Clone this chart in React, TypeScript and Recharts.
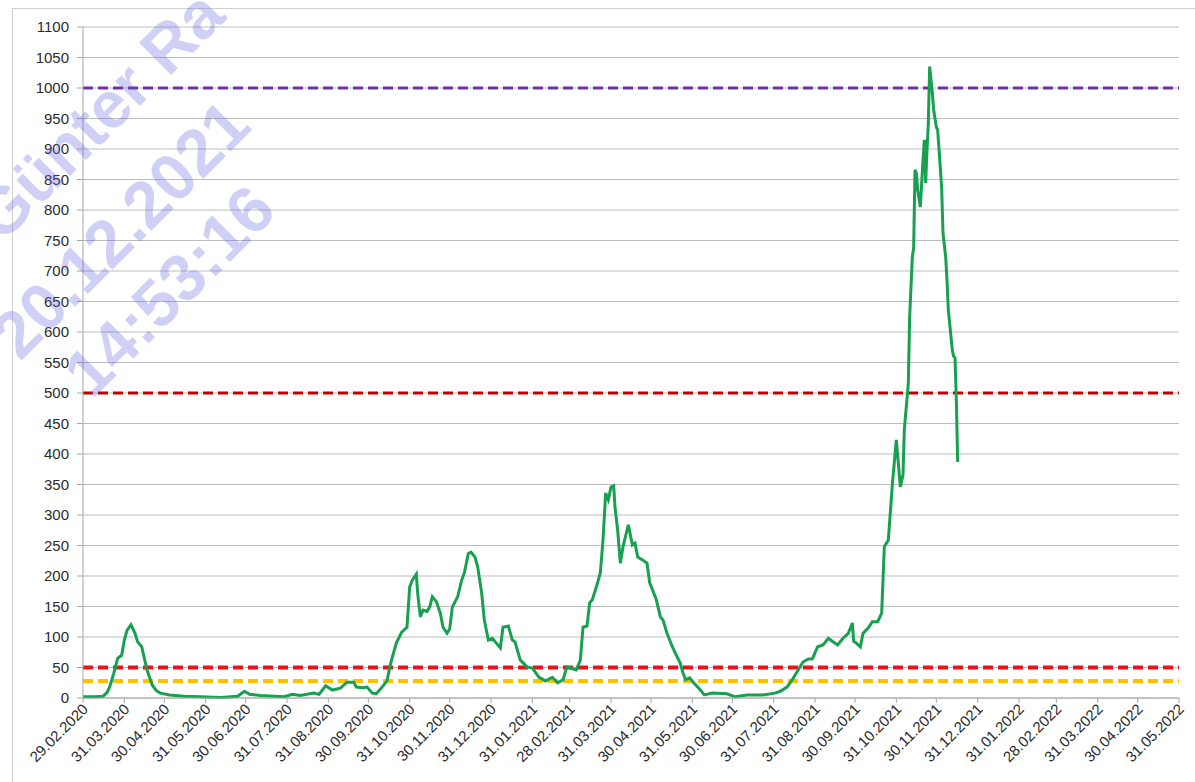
import { LineChart, Line, XAxis, YAxis, CartesianGrid, ReferenceLine } from 'recharts';

// 7-day incidence (one point per visible feature)
const reportDates = [
  '29.02.2020', '09.03.2020', '15.03.2020', '18.03.2020', '20.03.2020', '23.03.2020', '26.03.2020', '29.03.2020',
  '31.03.2020', '02.04.2020', '05.04.2020', '08.04.2020', '10.04.2020', '13.04.2020', '17.04.2020', '21.04.2020',
  '24.04.2020', '27.04.2020', '04.05.2020', '15.05.2020', '27.05.2020', '11.06.2020', '24.06.2020', '29.06.2020',
  '03.07.2020', '11.07.2020', '22.07.2020', '29.07.2020', '04.08.2020', '10.08.2020', '20.08.2020', '24.08.2020',
  '29.08.2020', '03.09.2020', '09.09.2020', '14.09.2020', '19.09.2020', '21.09.2020', '26.09.2020', '29.09.2020',
  '03.10.2020', '06.10.2020', '10.10.2020', '14.10.2020', '16.10.2020', '18.10.2020', '21.10.2020', '25.10.2020',
  '29.10.2020', '31.10.2020', '02.11.2020', '05.11.2020', '06.11.2020', '08.11.2020', '10.11.2020', '13.11.2020',
  '15.11.2020', '17.11.2020', '20.11.2020', '23.11.2020', '25.11.2020', '28.11.2020', '30.11.2020', '02.12.2020',
  '06.12.2020', '09.12.2020', '11.12.2020', '14.12.2020', '16.12.2020', '19.12.2020', '21.12.2020', '24.12.2020',
  '26.12.2020', '29.12.2020', '01.01.2021', '04.01.2021', '07.01.2021', '09.01.2021', '13.01.2021', '16.01.2021',
  '18.01.2021', '22.01.2021', '27.01.2021', '31.01.2021', '05.02.2021', '10.02.2021', '15.02.2021', '19.02.2021',
  '23.02.2021', '26.02.2021', '02.03.2021', '05.03.2021', '08.03.2021', '10.03.2021', '13.03.2021', '15.03.2021',
  '17.03.2021', '20.03.2021', '23.03.2021', '25.03.2021', '27.03.2021', '29.03.2021', '31.03.2021', '02.04.2021',
  '03.04.2021', '05.04.2021', '07.04.2021', '09.04.2021', '13.04.2021', '16.04.2021', '18.04.2021', '20.04.2021',
  '24.04.2021', '27.04.2021', '29.04.2021', '01.05.2021', '04.05.2021', '07.05.2021', '09.05.2021', '12.05.2021',
  '16.05.2021', '19.05.2021', '22.05.2021', '24.05.2021', '26.05.2021', '29.05.2021', '01.06.2021', '06.06.2021',
  '09.06.2021', '15.06.2021', '26.06.2021', '02.07.2021', '11.07.2021', '23.07.2021', '01.08.2021', '05.08.2021',
  '10.08.2021', '14.08.2021', '17.08.2021', '22.08.2021', '26.08.2021', '29.08.2021', '02.09.2021', '06.09.2021',
  '10.09.2021', '13.09.2021', '17.09.2021', '21.09.2021', '25.09.2021', '28.09.2021', '29.09.2021', '01.10.2021',
  '04.10.2021', '06.10.2021', '10.10.2021', '13.10.2021', '17.10.2021', '20.10.2021', '22.10.2021', '25.10.2021',
  '28.10.2021', '31.10.2021', '03.11.2021', '05.11.2021', '06.11.2021', '09.11.2021', '10.11.2021', '12.11.2021',
  '13.11.2021', '14.11.2021', '15.11.2021', '16.11.2021', '18.11.2021', '20.11.2021', '21.11.2021', '22.11.2021',
  '23.11.2021', '24.11.2021', '25.11.2021', '27.11.2021', '28.11.2021', '30.11.2021', '01.12.2021', '03.12.2021',
  '04.12.2021', '05.12.2021', '07.12.2021', '08.12.2021', '09.12.2021', '12.12.2021', '13.12.2021', '14.12.2021',
  '15.12.2021', '16.12.2021',
];

const incidence = [
  2, 2, 3, 9, 18, 40, 65, 70,
  95, 111, 120, 106, 92, 84, 46, 21,
  12, 8, 5, 3, 2, 1, 3, 11,
  6, 4, 3, 2, 6, 4, 8, 6,
  20, 13, 16, 26, 26, 18, 17, 18,
  8, 7, 17, 28, 50, 67, 90, 108,
  116, 182, 193, 203, 172, 133, 144, 142,
  149, 166, 158, 139, 116, 106, 113, 149,
  166, 193, 205, 237, 239, 231, 215, 172,
  128, 95, 98, 90, 82, 116, 118, 95,
  92, 62, 51, 49, 34, 28, 34, 25,
  30, 51, 48, 46, 62, 116, 118, 156,
  161, 182, 205, 259, 336, 325, 346, 348,
  313, 275, 221, 248, 284, 251, 254, 231,
  226, 221, 189, 178, 161, 133, 128, 106,
  84, 70, 57, 41, 30, 33, 25, 13,
  5, 8, 7, 2, 5, 5, 8, 11,
  18, 30, 41, 59, 64, 64, 84, 87,
  98, 93, 87, 98, 106, 123, 93, 90,
  84, 106, 115, 125, 125, 139, 248, 259,
  350, 423, 346, 366, 440, 516, 625, 723,
  738, 866, 861, 833, 805, 882, 915, 844,
  898, 943, 1035, 992, 964, 936, 931, 869,
  836, 762, 723, 685, 636, 570, 560, 558,
  489, 387,
];

const monthTicks = [
  '29.02.2020', '31.03.2020', '30.04.2020', '31.05.2020', '30.06.2020', '31.07.2020', '31.08.2020',
  '30.09.2020', '31.10.2020', '30.11.2020', '31.12.2020', '31.01.2021', '28.02.2021', '31.03.2021',
  '30.04.2021', '31.05.2021', '30.06.2021', '31.07.2021', '31.08.2021', '30.09.2021', '31.10.2021',
  '30.11.2021', '31.12.2021', '31.01.2022', '28.02.2022', '31.03.2022', '30.04.2022', '31.05.2022',
];

const yTicks = [0, 50, 100, 150, 200, 250, 300, 350, 400, 450, 500, 550, 600, 650, 700, 750, 800, 850, 900, 950, 1000, 1050, 1100];

// threshold lines: 1000, 500, 50 and the lower warning level
const limitValues = [1000, 500, 50, 28];
const limitColors = ['#7030a0', '#c00000', '#e8141c', '#ffc000'];

const watermarkLines = ['Günter Ra', '20.12.2021', '14:53:16'];

const ORIGIN = Date.UTC(2020, 1, 29);
const toDay = (s: string) => {
  const [d, m, y] = s.split('.').map(Number);
  return Math.round((Date.UTC(y, m - 1, d) - ORIGIN) / 86400000);
};

const data = reportDates.map((d, i) => ({ day: toDay(d), value: incidence[i] }));
const tickDays = monthTicks.map(toDay);
const labelByDay: Record<number, string> = {};
monthTicks.forEach((l) => (labelByDay[toDay(l)] = l));

const FONT = '"Liberation Sans", Arial, sans-serif';

const DateTick = ({ x, y, payload }: any) => {
  const ax = x + 6;
  const ay = y + 5;
  return (
    <text x={ax} y={ay} transform={`rotate(-45 ${ax} ${ay})`} textAnchor="end" fontSize={15} fill="#2b2b2b" fontFamily={FONT}>
      {labelByDay[payload.value]}
    </text>
  );
};

const Watermark = () => (
  <svg width={1195} height={782} style={{ position: 'absolute', left: 0, top: 0, pointerEvents: 'none' }}>
    {[
      [2, 244],
      [20, 362],
      [92, 400],
    ].map(([x, y], i) => (
      <text
        key={i}
        x={x}
        y={y}
        transform={`rotate(-45 ${x} ${y})`}
        fontSize={66}
        fontWeight="bold"
        fontFamily={FONT}
        fill="rgba(100, 100, 230, 0.3)"
      >
        {watermarkLines[i]}
      </text>
    ))}
  </svg>
);

export default function App() {
  return (
    <div style={{ position: 'absolute', left: 0, top: 0, width: 1195, height: 782, overflow: 'hidden', background: '#fff' }}>
      <div style={{ position: 'absolute', left: 12, top: 8, width: 1200, height: 800, border: '1px solid #d0d0d0' }} />
      <LineChart width={1195} height={782} data={data} margin={{ top: 27, right: 16, left: 33, bottom: 14 }}>
        <CartesianGrid vertical={false} stroke="#bdbdbd" />
        <XAxis
          dataKey="day"
          type="number"
          domain={[0, tickDays[tickDays.length - 1]]}
          ticks={tickDays}
          interval={0}
          height={70}
          stroke="#a6a6a6"
          tickSize={5}
          tick={<DateTick />}
        />
        <YAxis
          domain={[0, 1100]}
          ticks={yTicks}
          interval={0}
          width={50}
          stroke="#a6a6a6"
          tickSize={6}
          tickMargin={8}
          tick={{ fontSize: 15, fill: '#2b2b2b', fontFamily: FONT }}
        />
        {limitValues.map((v, i) => (
          <ReferenceLine key={v} y={v} stroke={limitColors[i]} strokeWidth={i < 2 ? 3 : 4} strokeDasharray="10 5" />
        ))}
        <Line type="linear" dataKey="value" stroke="#17a050" strokeWidth={3} dot={false} isAnimationActive={false} />
      </LineChart>
      <Watermark />
    </div>
  );
}
